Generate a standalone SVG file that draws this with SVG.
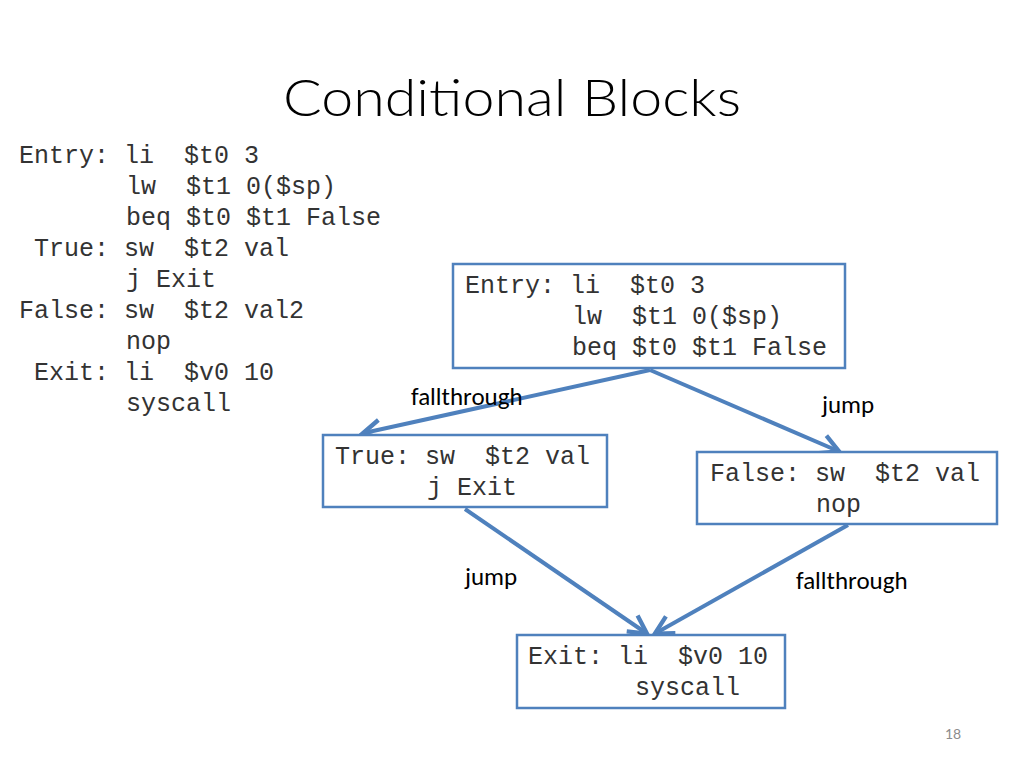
<svg xmlns="http://www.w3.org/2000/svg" width="1024" height="768" viewBox="0 0 1024 768">
<defs>
<style>
.code{font-family:"Liberation Mono","Courier New",monospace;font-size:25px;fill:#333;white-space:pre}
.box{fill:#fff;stroke:#4F81BD;stroke-width:2.5}
.lbl{font-family:Carlito,Lato,"Open Sans",sans-serif;font-size:25px;fill:#000}
.edge{fill:none;stroke:#4F81BD;stroke-width:4;marker-end:url(#arr)}
</style>
<marker id="arr" viewBox="0 0 10 10" refX="8" refY="5" markerWidth="6" markerHeight="6" orient="auto" markerUnits="strokeWidth">
<path d="M1,1 L8.5,5 L1,9" fill="none" stroke="#4F81BD" stroke-width="1.8"/>
</marker>
</defs>
<rect width="1024" height="768" fill="#fff"/>
<text x="512" y="116" text-anchor="middle" font-family="Lato,'Open Sans',sans-serif" font-weight="300" font-size="52" fill="#000" textLength="458" lengthAdjust="spacingAndGlyphs">Conditional Blocks</text>
<g id="listing" class="code" xml:space="preserve">
<text class="code" x="19" y="163">Entry: li  $t0 3</text>
<text class="code" x="126" y="194">lw  $t1 0($sp)</text>
<text class="code" x="126" y="225">beq $t0 $t1 False</text>
<text class="code" x="34" y="256">True: sw  $t2 val</text>
<text class="code" x="126" y="287">j Exit</text>
<text class="code" x="19" y="318">False: sw  $t2 val2</text>
<text class="code" x="126" y="349">nop</text>
<text class="code" x="34" y="380">Exit: li  $v0 10</text>
<text class="code" x="126" y="411">syscall</text>
</g>
<g id="connectors">
<line class="edge" x1="650" y1="370" x2="364" y2="433"/>
<line class="edge" x1="650" y1="370" x2="838" y2="451"/>
<line class="edge" x1="465" y1="509" x2="646" y2="633"/>
<line class="edge" x1="848" y1="525" x2="656" y2="633"/>
<text class="lbl" x="411" y="405">fallthrough</text>
<text class="lbl" x="822" y="413">jump</text>
<text class="lbl" x="465" y="585">jump</text>
<text class="lbl" x="796" y="589">fallthrough</text>
</g>
<g id="entry">
<rect class="box" x="453" y="264" width="392" height="104"/>
<text class="code" x="465" y="293" xml:space="preserve">Entry: li  $t0 3</text>
<text class="code" x="572" y="324" xml:space="preserve">lw  $t1 0($sp)</text>
<text class="code" x="572" y="355" xml:space="preserve">beq $t0 $t1 False</text>
</g>
<g id="true">
<rect class="box" x="323" y="435" width="284" height="72"/>
<text class="code" x="335" y="464" xml:space="preserve">True: sw  $t2 val</text>
<text class="code" x="427" y="495">j Exit</text>
</g>
<g id="false">
<rect class="box" x="697" y="452" width="300" height="72"/>
<text class="code" x="710" y="481" xml:space="preserve">False: sw  $t2 val</text>
<text class="code" x="816" y="512">nop</text>
</g>
<g id="exit">
<rect class="box" x="517" y="635" width="268" height="73"/>
<text class="code" x="528" y="664" xml:space="preserve">Exit: li  $v0 10</text>
<text class="code" x="635" y="695">syscall</text>
</g>
<text x="953" y="739" text-anchor="middle" font-family="Lato,sans-serif" font-size="14" fill="#8c8c8c">18</text>
</svg>
